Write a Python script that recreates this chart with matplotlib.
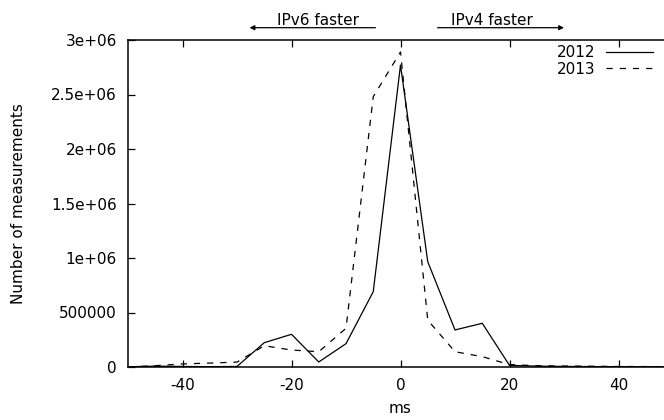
import matplotlib
matplotlib.use("Agg")
import matplotlib.pyplot as plt

# latency difference bins (ms) and counts per year
ms = [-50, -45, -40, -35, -30, -25, -20, -15, -10, -5, 0, 5, 10, 15, 20, 25, 30, 35, 40, 45, 50]
count_2012 = [2000, 8000, 5000, 3000, 5000, 223000, 300000, 46000, 214000, 691000,
              2770000, 966000, 340000, 401000, 15000, 8000, 5000, 4000, 3000, 2000, 1000]
count_2013 = [0, 12000, 28000, 36000, 45000, 195000, 156000, 140000, 355000, 2480000,
              2890000, 430000, 140000, 95000, 22000, 12000, 9000, 7000, 5000, 4000, 3000]

plt.rcParams["font.family"] = "DejaVu Sans"
plt.rcParams["font.size"] = 11
plt.rcParams["lines.scale_dashes"] = False
plt.rcParams["axes.unicode_minus"] = False

fig = plt.figure(figsize=(6.64, 4.2), dpi=100)
# plot frame extends slightly past the right edge, as in the reference
ax = fig.add_axes([128 / 664, 53 / 420, 545 / 664, 327 / 420])

ax.plot(ms, count_2012, color="black", lw=0.9, label="2012")
ax.plot(ms, count_2013, color="black", lw=0.9, dashes=(4.5, 5), label="2013")

ax.set_xlim(-50, 50)
ax.set_ylim(0, 3e6)
ax.set_xticks([-40, -20, 0, 20, 40])
ax.set_yticks([0, 500000, 1000000, 1500000, 2000000, 2500000, 3000000])
ax.set_yticklabels(["0", "500000", "1e+06", "1.5e+06", "2e+06", "2.5e+06", "3e+06"])
ax.tick_params(direction="in", length=5, width=0.9, top=True, right=True)
ax.tick_params(axis="x", pad=8)
ax.tick_params(axis="y", pad=8)
for s in ax.spines.values():
    s.set_linewidth(1.1)

ax.set_xlabel("ms", labelpad=6)
ax.set_ylabel("Number of measurements", labelpad=18)

ax.legend(loc="upper right", bbox_to_anchor=(653 / 664, 1 - 45 / 420),
          bbox_transform=fig.transFigure, frameon=False, markerfirst=False,
          handlelength=3.07, handletextpad=0.72, labelspacing=0.1,
          borderpad=0, borderaxespad=0)

# direction annotations above the plot
ax.annotate("", xy=(-27.7, 1.0376), xytext=(-4.6, 1.0376),
            xycoords=("data", "axes fraction"),
            arrowprops=dict(arrowstyle="-|>", color="black", lw=0.9,
                            mutation_scale=7, shrinkA=0, shrinkB=0),
            annotation_clip=False)
ax.annotate("", xy=(30, 1.0376), xytext=(6.8, 1.0376),
            xycoords=("data", "axes fraction"),
            arrowprops=dict(arrowstyle="-|>", color="black", lw=0.9,
                            mutation_scale=7, shrinkA=0, shrinkB=0),
            annotation_clip=False)
ax.text(-15.2, 1.047, "IPv6 faster", transform=ax.get_xaxis_transform(),
        ha="center", va="baseline")
ax.text(16.8, 1.047, "IPv4 faster", transform=ax.get_xaxis_transform(),
        ha="center", va="baseline")

fig.savefig("out.png", dpi=100)
